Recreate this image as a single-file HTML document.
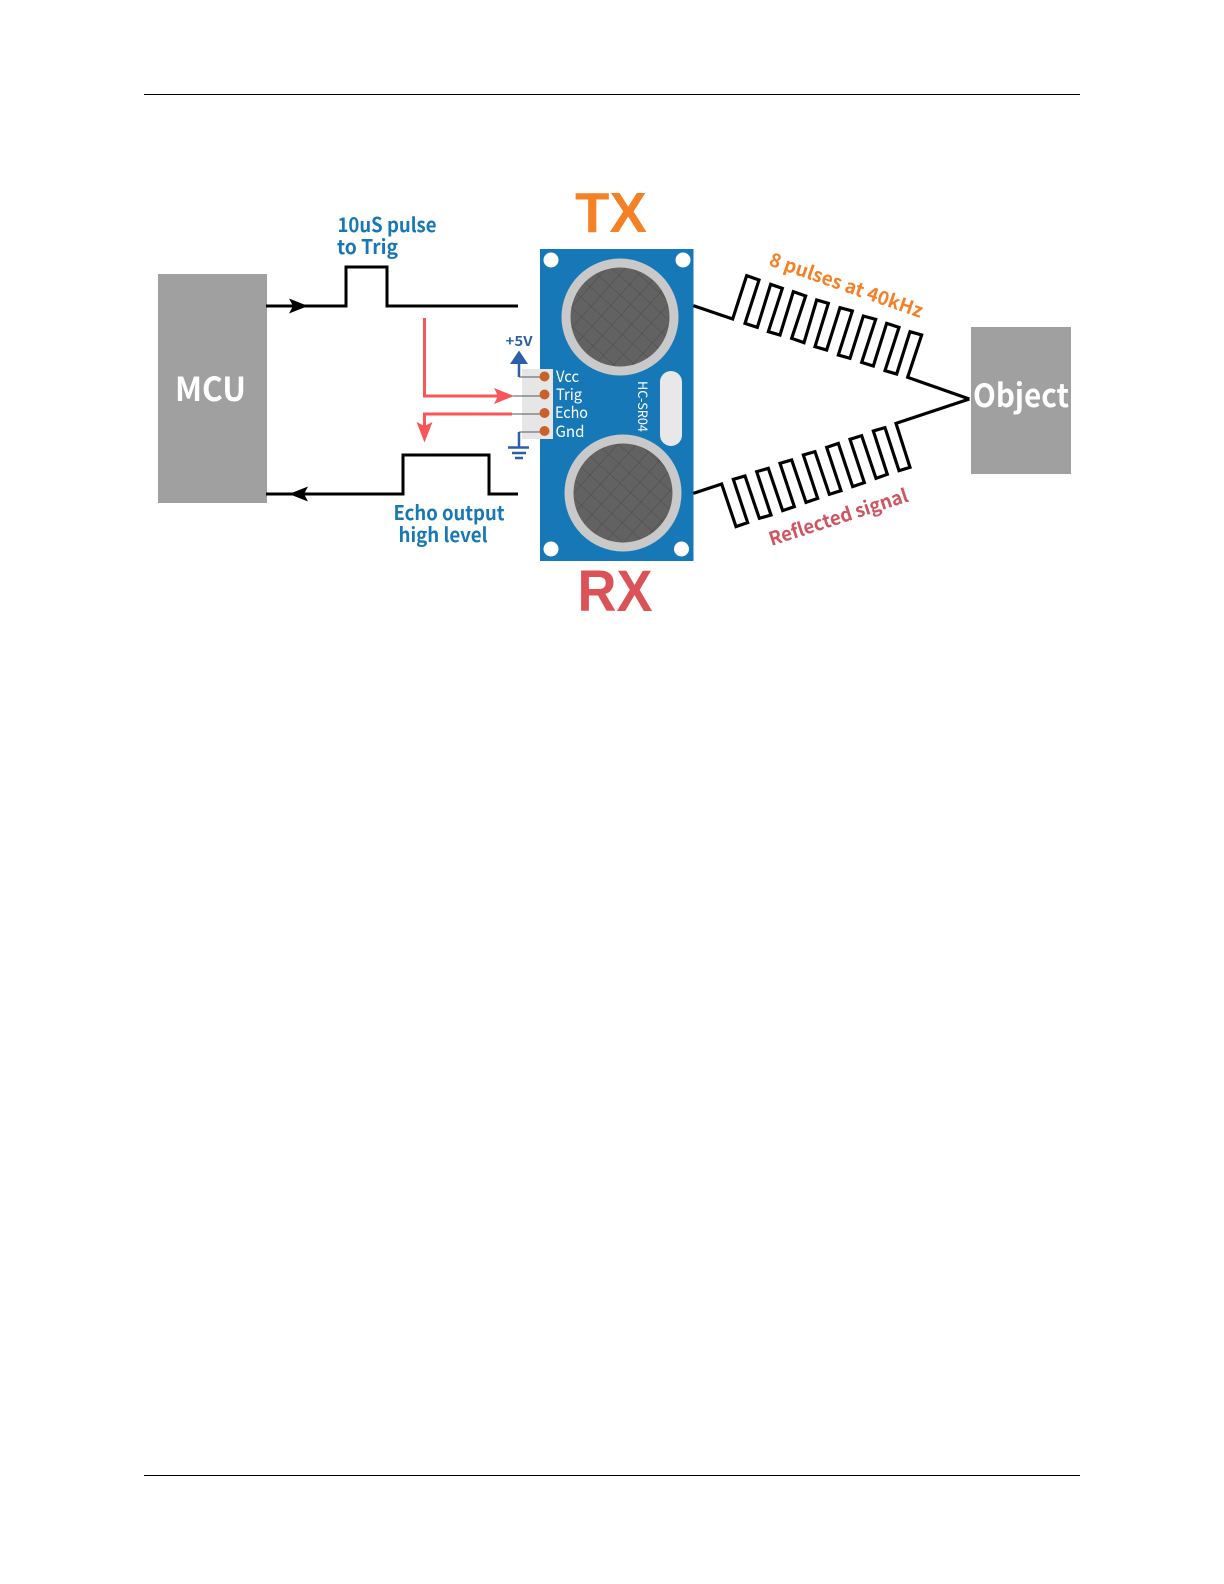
<!DOCTYPE html>
<html>
<head>
<meta charset="utf-8">
<style>
html,body{margin:0;padding:0;background:#fff;}
svg{display:block;}
text{font-family:"Noto Sans CJK SC","Liberation Sans",sans-serif;}
.l{font-family:"Liberation Sans",sans-serif;font-weight:700;}
</style>
</head>
<body>
<svg width="1224" height="1584" viewBox="0 0 1224 1584" xmlns="http://www.w3.org/2000/svg">
<defs>
<pattern id="mesh" width="14" height="14" patternUnits="userSpaceOnUse" patternTransform="rotate(42)">
<rect width="14" height="14" fill="#626262"/>
<path d="M0 0H14M0 0V14" stroke="#444" stroke-width="0.8" fill="none"/>
</pattern>
</defs>
<rect width="1224" height="1584" fill="#fff"/>
<rect x="144" y="94" width="936" height="1" fill="#000"/>
<rect x="144" y="1475" width="936" height="1" fill="#000"/>

<!-- boxes -->
<rect x="158" y="274" width="109" height="229" fill="#a0a0a0"/>
<rect x="971" y="327" width="100" height="147" fill="#a0a0a0"/>
<text x="175" y="401" font-size="33" font-weight="700" fill="#fff" textLength="71" lengthAdjust="spacingAndGlyphs">MCU</text>
<text x="973" y="407" font-size="32" font-weight="700" fill="#fff" textLength="96" lengthAdjust="spacingAndGlyphs">Object</text>

<!-- waveforms -->
<g fill="none" stroke="#000" stroke-width="3">
<path d="M266 306H346V267H387V306H518"/>
<path d="M266 494H403V455H489V494H518"/>
</g>
<path d="M289 298.500L308 306L289 313.500L293 306Z" fill="#000"/>
<path d="M289 494L308 486.500L304 494L308 501.500Z" fill="#000"/>

<!-- board -->
<rect x="540" y="249" width="153.500" height="312" fill="#1778b8"/>
<g fill="#fff">
<circle cx="551" cy="260" r="7.500"/>
<circle cx="683" cy="260" r="7.500"/>
<circle cx="551" cy="549" r="7.500"/>
<circle cx="681.500" cy="549" r="7.500"/>
</g>
<circle cx="620" cy="317" r="58.500" fill="#c9c9c9"/>
<circle cx="620" cy="317" r="49.500" fill="url(#mesh)"/>
<circle cx="623" cy="493" r="58.500" fill="#c9c9c9"/>
<circle cx="623" cy="493" r="49.500" fill="url(#mesh)"/>
<rect x="660" y="371" width="22" height="75" rx="11" fill="#e8e8e8"/>
<text transform="translate(638 381) rotate(90)" font-size="13" fill="#fff" textLength="51" lengthAdjust="spacingAndGlyphs">HC-SR04</text>

<!-- connector -->
<rect x="522" y="369" width="31" height="70" fill="#e6e6e6"/>
<g stroke="#555" stroke-width="1" fill="none">
<path d="M519 377H544"/>
<path d="M512 396H544"/>
<path d="M512 414H544"/>
<path d="M519 432H544"/>
</g>
<g fill="#c8622a">
<circle cx="544.500" cy="376.500" r="5"/>
<circle cx="544.500" cy="394.500" r="5"/>
<circle cx="544.500" cy="413" r="5"/>
<circle cx="544.500" cy="431" r="5"/>
</g>
<g font-size="15.500" fill="#fff">
<text x="556" y="382" textLength="23" lengthAdjust="spacingAndGlyphs">Vcc</text>
<text x="556" y="400" textLength="26" lengthAdjust="spacingAndGlyphs">Trig</text>
<text x="555" y="418" textLength="33" lengthAdjust="spacingAndGlyphs">Echo</text>
<text x="555.500" y="437" textLength="29" lengthAdjust="spacingAndGlyphs">Gnd</text>
</g>

<!-- power -->
<path d="M519 363V377" stroke="#2b5fa8" stroke-width="2.500" fill="none"/>
<path d="M519 350.500L528 364H510Z" fill="#2b5fa8"/>
<path d="M519 432V447" stroke="#2b5fa8" stroke-width="2.500" fill="none"/>
<g stroke="#2b5fa8" stroke-width="2.500">
<path d="M508 447.500H529"/>
<path d="M512 453H526"/>
<path d="M515 458H523"/>
</g>
<text x="505.500" y="346" font-size="13.500" font-weight="700" fill="#2b5fa8" textLength="27" lengthAdjust="spacingAndGlyphs">+5V</text>

<!-- red arrows -->
<g fill="none" stroke="#f9565a" stroke-width="3">
<path d="M424.500 318V396H498"/>
<path d="M512 414H424.500V426"/>
</g>
<path d="M514 396L494 388L498 396L494 404Z" fill="#f9565a"/>
<path d="M424.500 442.500L416.500 422L424.500 426L432.500 422Z" fill="#f9565a"/>

<!-- pulse trains -->
<g transform="translate(680 240) scale(0.33333)" fill="none" stroke="#000" stroke-width="9.500" stroke-linejoin="miter">
<path d="M40 197L158 237L200 107L237 120L195 250L232 262L272 133L307 145L265 275L300 285L340 155L377 168L335 295L372 308L410 180L445 190L405 320L440 330L480 203L517 213L475 345L510 355L550 228L587 238L545 367L580 378L620 250L657 262L615 392L650 402L690 275L725 285L683 412L868 477"/>
<path d="M40 760L125 732L168 860L203 848L160 718L195 708L238 835L273 825L230 695L265 685L308 812L343 800L300 670L335 660L378 787L413 775L370 645L405 635L448 763L483 752L440 622L475 610L518 740L553 728L510 598L545 587L588 715L622 703L580 573L615 563L657 692L690 682L648 550L868 477"/>
</g>

<!-- labels -->
<g font-size="20" font-weight="700" fill="#1878b4">
<text x="337.500" y="232" textLength="99" lengthAdjust="spacingAndGlyphs">10uS pulse</text>
<text x="337" y="254" textLength="61" lengthAdjust="spacingAndGlyphs">to Trig</text>
<text x="393.500" y="520" textLength="111" lengthAdjust="spacingAndGlyphs">Echo output</text>
<text x="398.500" y="542" textLength="89" lengthAdjust="spacingAndGlyphs">high level</text>
</g>
<text class="l" x="575" y="232" font-size="57" fill="#f58026" textLength="72" lengthAdjust="spacingAndGlyphs">TX</text>
<text class="l" x="577.500" y="611" font-size="58" fill="#dc5357" textLength="75" lengthAdjust="spacingAndGlyphs">RX</text>
<text transform="translate(768 265) rotate(19.200)" font-size="19" font-weight="700" fill="#f58026" textLength="161" lengthAdjust="spacingAndGlyphs">8 pulses at 40kHz</text>
<text transform="translate(771.500 546) rotate(-18)" font-size="19" font-weight="700" fill="#cf5560" textLength="145" lengthAdjust="spacingAndGlyphs">Reflected signal</text>
</svg>
</body>
</html>
